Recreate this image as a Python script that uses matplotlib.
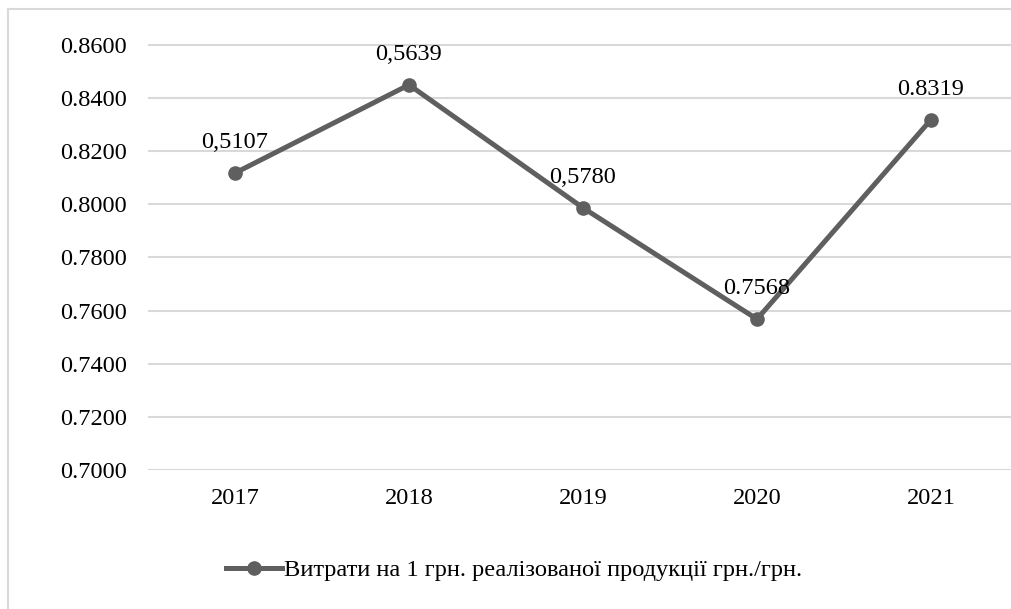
import matplotlib.pyplot as plt
from matplotlib.lines import Line2D

years = ["2017", "2018", "2019", "2020", "2021"]
costs = [0.8118, 0.8450, 0.7987, 0.7568, 0.8319]
point_labels = ["0,5107", "0,5639", "0,5780", "0.7568", "0.8319"]
y_ticks = [0.70, 0.72, 0.74, 0.76, 0.78, 0.80, 0.82, 0.84, 0.86]
series_name = "Витрати на 1 грн. реалізованої продукції грн./грн."

plt.rcParams['font.family'] = ['Liberation Serif', 'DejaVu Serif']

line_color = "#5f5f5f"
grid_color = "#d9d9d9"
fs = 17.6

fig = plt.figure(figsize=(10.11, 6.09), dpi=100)
ax = fig.add_axes([148 / 1011, 139 / 609, 870 / 1011, 440 / 609])

x = list(range(len(years)))
ax.plot(x, costs, color=line_color, linewidth=3.6, marker="o", markersize=9.5,
        label=series_name, zorder=3, clip_on=False)

for xi, val, txt in zip(x, costs, point_labels):
    ax.annotate(txt, (xi, val), xytext=(0, 22), textcoords="offset points",
                ha="center", va="center", fontsize=fs, color="black")

ax.set_xlim(-0.5, len(years) - 0.5)
ax.set_ylim(0.70, 0.70 + 0.16 * 440 / 425)
ax.set_xticks(x)
ax.set_xticklabels(years)
ax.set_yticks(y_ticks)
ax.set_yticklabels([f"{v:.4f}" for v in y_ticks])
ax.tick_params(axis="both", length=0, labelsize=fs)
ax.tick_params(axis="y", pad=15)
ax.tick_params(axis="x", pad=13)

for v in y_ticks:
    ax.axhline(v, color=grid_color, linewidth=1.5, zorder=1)
for s in ax.spines.values():
    s.set_visible(False)

ax.legend(loc="center", bbox_to_anchor=(514 / 1011, 1 - 570 / 609),
          bbox_transform=fig.transFigure, frameon=False, fontsize=fs,
          handlelength=2.3, handletextpad=0.1)

# outer chart frame
fig.add_artist(Line2D([8 / 1011, 8 / 1011], [0, 1 - 9 / 609], color=grid_color, linewidth=1.5))
fig.add_artist(Line2D([8 / 1011, 1], [1 - 9 / 609, 1 - 9 / 609], color=grid_color, linewidth=1.5))

fig.savefig("out.png", dpi=100)
